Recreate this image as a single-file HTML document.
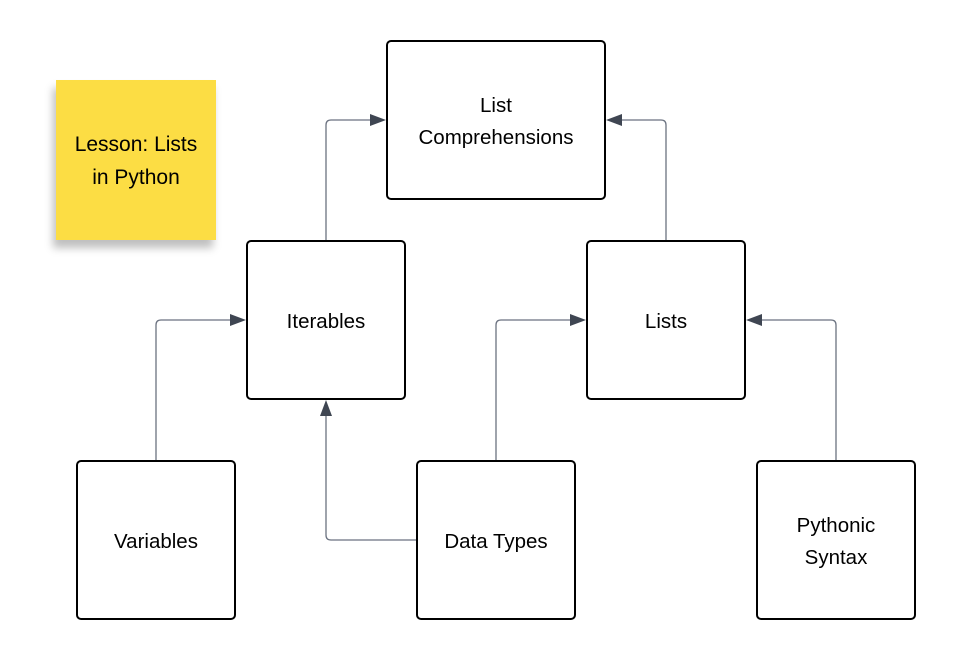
<!DOCTYPE html>
<html><head><style>
body{margin:0;width:957px;height:660px;background:#fff;position:relative;overflow:hidden;font-family:"Liberation Sans",sans-serif;}
.b{position:absolute;box-sizing:border-box;border:2px solid #000;border-radius:5px;background:#fff;display:flex;align-items:center;justify-content:center;text-align:center;font-size:20.5px;line-height:32px;color:#000;padding-top:3px;}
.s{position:absolute;left:56px;top:80px;width:160px;height:160px;background:#fcdd44;display:flex;align-items:center;justify-content:center;text-align:center;font-size:21px;line-height:33px;box-shadow:-3px 8px 8px rgba(0,0,0,0.25);padding-top:2px;box-sizing:border-box;}
svg{position:absolute;left:0;top:0;}
</style></head><body>
<div class="s">Lesson: Lists<br>in Python</div>
<svg width="957" height="660">
<g fill="none" stroke="#6b7280" stroke-width="1.3">
<path d="M326 240 V125 Q326 120 331 120 H372"/>
<path d="M666 240 V125 Q666 120 661 120 H620"/>
<path d="M156 460 V325 Q156 320 161 320 H232"/>
<path d="M496 460 V325 Q496 320 501 320 H572"/>
<path d="M416 540 H331 Q326 540 326 535 V414"/>
<path d="M836 460 V325 Q836 320 831 320 H760"/>
</g>
<g fill="#3f4652">
<path d="M386 120 L370 114 V126Z"/>
<path d="M606 120 L622 114 V126Z"/>
<path d="M246 320 L230 314 V326Z"/>
<path d="M586 320 L570 314 V326Z"/>
<path d="M326 400 L320 416 H332Z"/>
<path d="M746 320 L762 314 V326Z"/>
</g>
</svg>
<div class="b" style="left:386px;top:40px;width:220px;height:160px;">List<br>Comprehensions</div>
<div class="b" style="left:246px;top:240px;width:160px;height:160px;">Iterables</div>
<div class="b" style="left:586px;top:240px;width:160px;height:160px;">Lists</div>
<div class="b" style="left:76px;top:460px;width:160px;height:160px;">Variables</div>
<div class="b" style="left:416px;top:460px;width:160px;height:160px;">Data Types</div>
<div class="b" style="left:756px;top:460px;width:160px;height:160px;">Pythonic<br>Syntax</div>
</body></html>
